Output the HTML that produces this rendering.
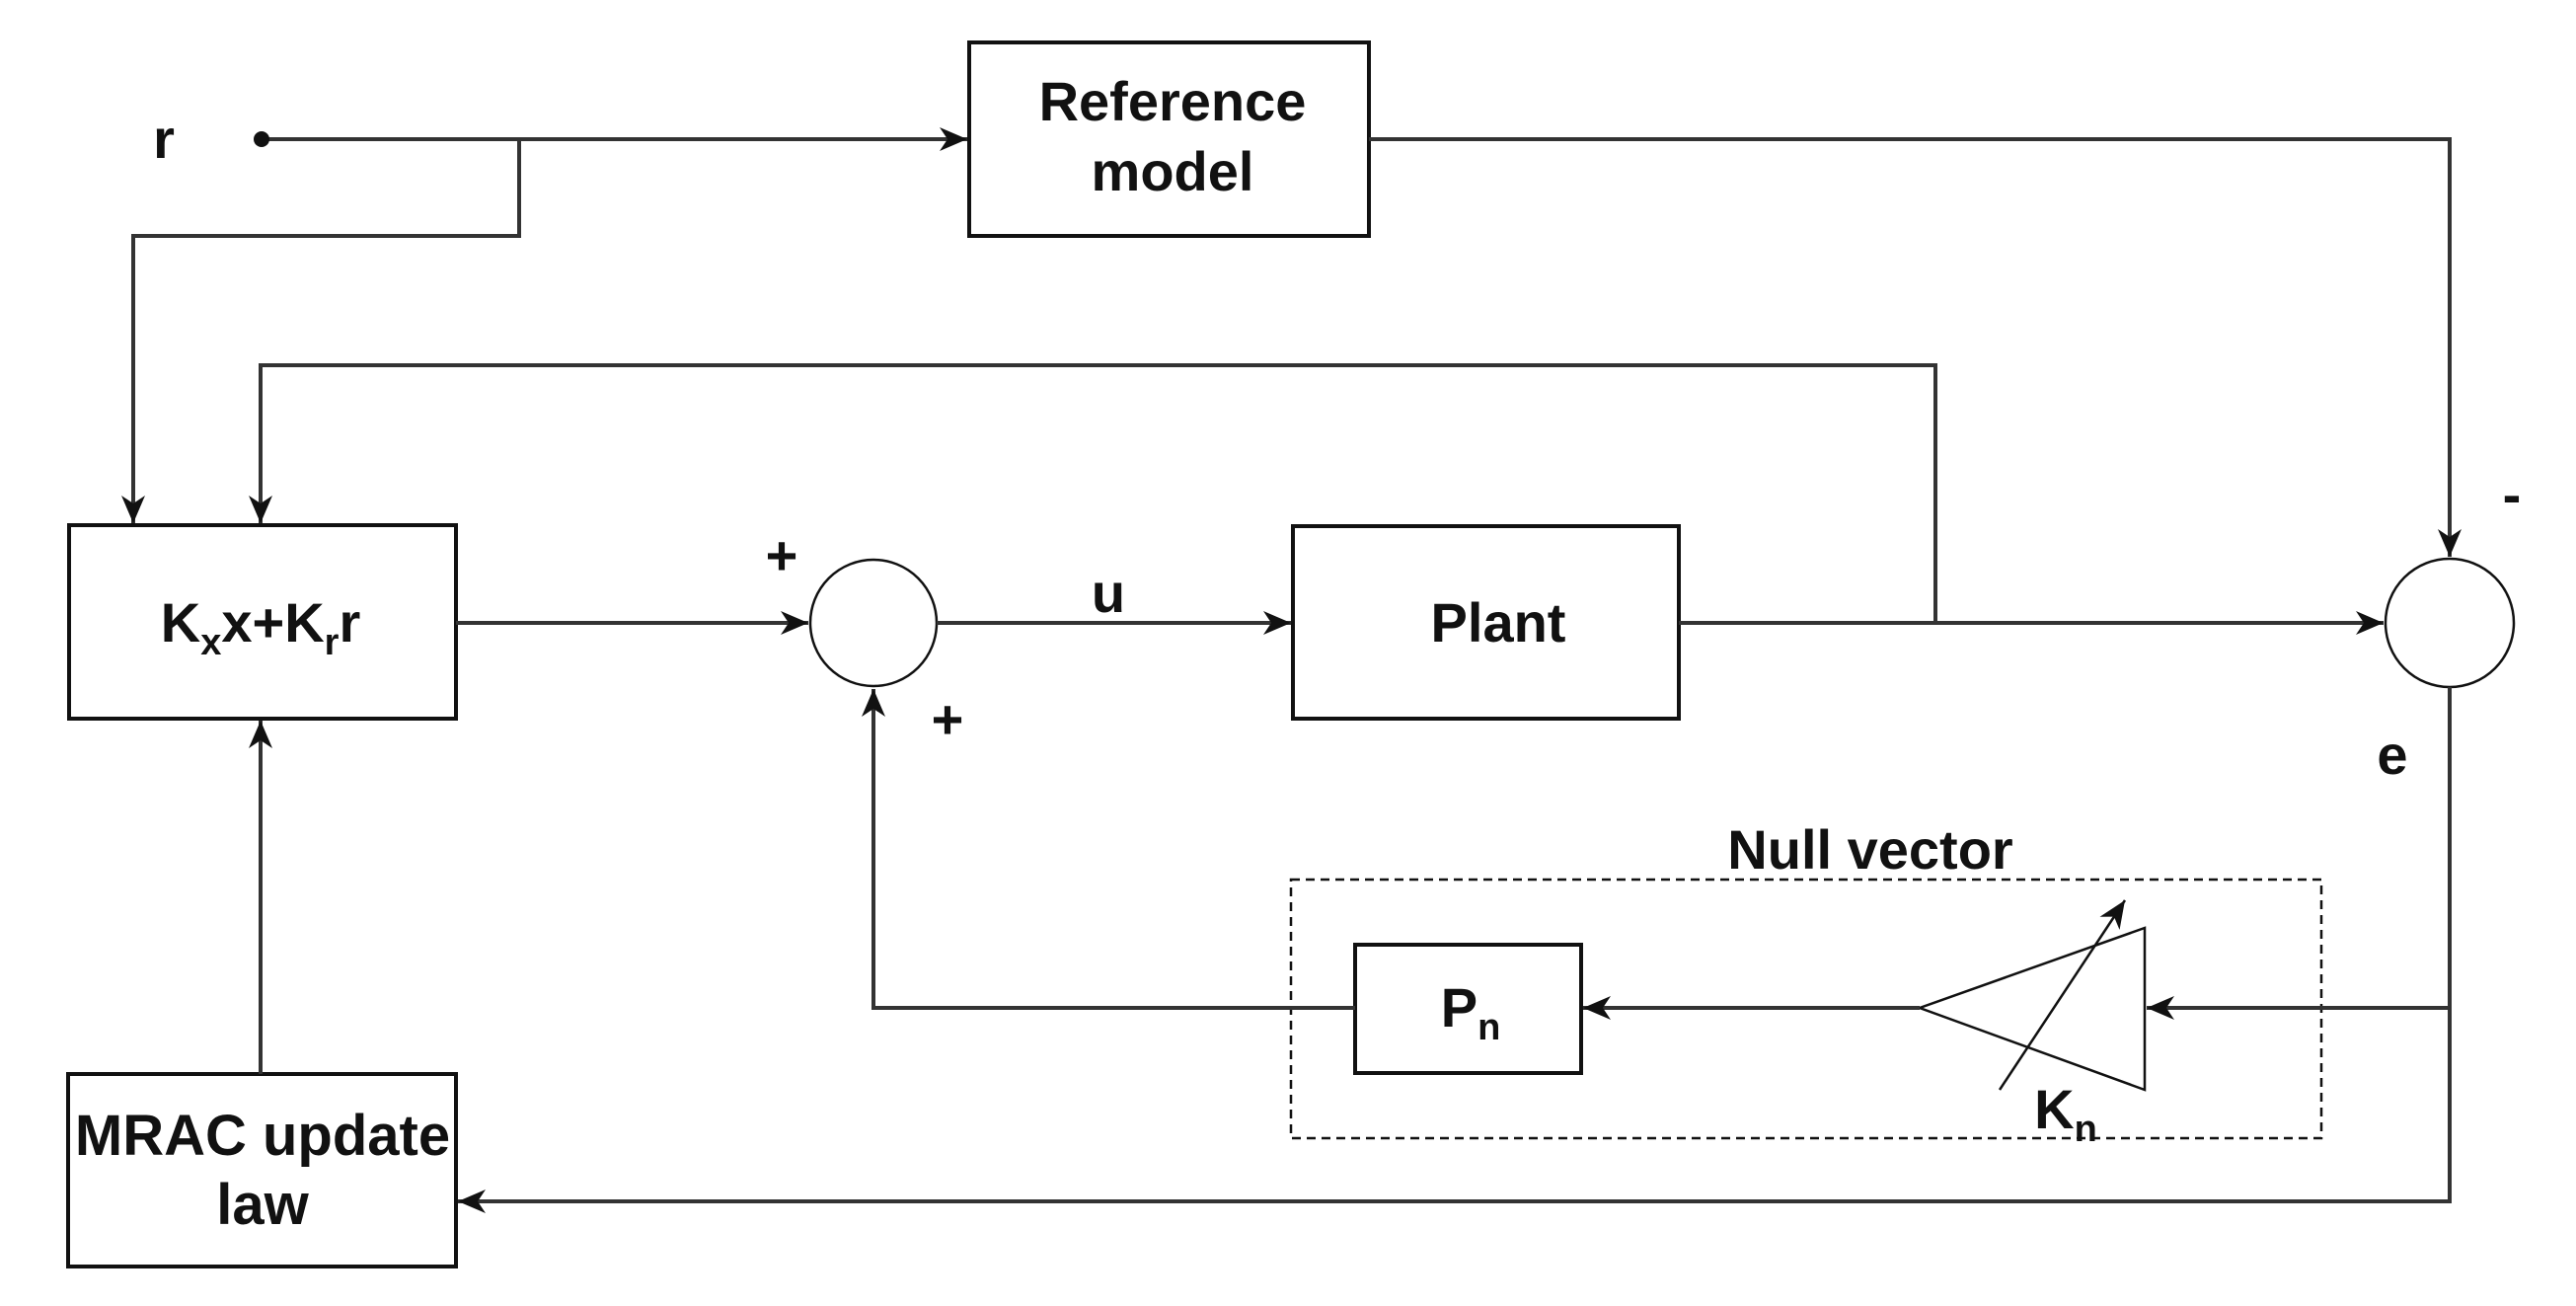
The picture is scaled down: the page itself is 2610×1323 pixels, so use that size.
<!DOCTYPE html>
<html><head><meta charset="utf-8"><style>
html,body{margin:0;padding:0;background:#fff;}
svg{display:block;}
text{font-family:"Liberation Sans",sans-serif;font-weight:bold;fill:#111;}
</style></head><body>
<svg width="2610" height="1323" viewBox="0 0 2610 1323" xmlns="http://www.w3.org/2000/svg">
<defs>
<marker id="b" markerWidth="30" markerHeight="24" refX="28" refY="12" orient="auto" markerUnits="userSpaceOnUse">
<path d="M0,0 L28,12 L0,24 L8,12 Z" fill="#111"/></marker>
</defs>
<g fill="none" stroke="#333" stroke-width="4">
<rect x="982" y="43" width="405" height="196" stroke="#111"/>
<rect x="70" y="532" width="392" height="196" stroke="#111"/>
<rect x="1310" y="533" width="391" height="195" stroke="#111"/>
<rect x="69" y="1088" width="393" height="195" stroke="#111"/>
<rect x="1373" y="957" width="229" height="130" stroke="#111"/>
<rect x="1308" y="891" width="1044" height="262" stroke="#111" stroke-width="2.5" stroke-dasharray="9,6"/>
<circle cx="885" cy="631" r="64" stroke="#111" stroke-width="2.5"/>
<circle cx="2482" cy="631" r="65" stroke="#111" stroke-width="2.5"/>
<polygon points="2173,940 2173,1104 1945,1021" stroke="#111" stroke-width="2.5"/>
<line x1="265" y1="141" x2="980" y2="141" marker-end="url(#b)"/>
<polyline points="526,141 526,239 135,239 135,530" marker-end="url(#b)"/>
<polyline points="1961,631 1961,370 264,370 264,530" marker-end="url(#b)"/>
<line x1="462" y1="631" x2="819" y2="631" marker-end="url(#b)"/>
<line x1="949" y1="631" x2="1308" y2="631" marker-end="url(#b)"/>
<line x1="1701" y1="631" x2="2415" y2="631" marker-end="url(#b)"/>
<polyline points="1387,141 2482,141 2482,564" marker-end="url(#b)"/>
<polyline points="2482,696 2482,1217 464,1217" marker-end="url(#b)"/>
<line x1="2482" y1="1021" x2="2175" y2="1021" marker-end="url(#b)"/>
<line x1="1945" y1="1021" x2="1604" y2="1021" marker-end="url(#b)"/>
<polyline points="1373,1021 885,1021 885,698" marker-end="url(#b)"/>
<line x1="264" y1="1088" x2="264" y2="730" marker-end="url(#b)"/>
<line x1="2026" y1="1104" x2="2153" y2="912" stroke="#111" stroke-width="2.5" marker-end="url(#b)"/>
</g>
<circle cx="265" cy="141" r="8" fill="#111"/>
<g font-size="56">
<text x="166" y="160" text-anchor="middle">r</text>
<text x="1188" y="122" text-anchor="middle">Reference</text>
<text x="1188" y="193" text-anchor="middle">model</text>
<text x="264" y="650" text-anchor="middle">K<tspan font-size="38" dy="13">x</tspan><tspan dy="-13">x+K</tspan><tspan font-size="38" dy="13">r</tspan><tspan dy="-13">r</tspan></text>
<text x="1518" y="650" text-anchor="middle">Plant</text>
<text x="1123" y="620" text-anchor="middle">u</text>
<text x="1490" y="1040" text-anchor="middle">P<tspan font-size="38" dy="13">n</tspan></text>
<text x="2093" y="1143" text-anchor="middle">K<tspan font-size="38" dy="13">n</tspan></text>
<text x="1895" y="880" text-anchor="middle">Null vector</text>
<text x="2424" y="784" text-anchor="middle">e</text>
<text x="792" y="582" text-anchor="middle">+</text>
<text x="960" y="748" text-anchor="middle">+</text>
<text x="2545" y="520" text-anchor="middle">-</text>
<text x="266" y="1170" text-anchor="middle" font-size="58">MRAC update</text>
<text x="266" y="1240" text-anchor="middle" font-size="58">law</text>
</g>
</svg>
</body></html>
